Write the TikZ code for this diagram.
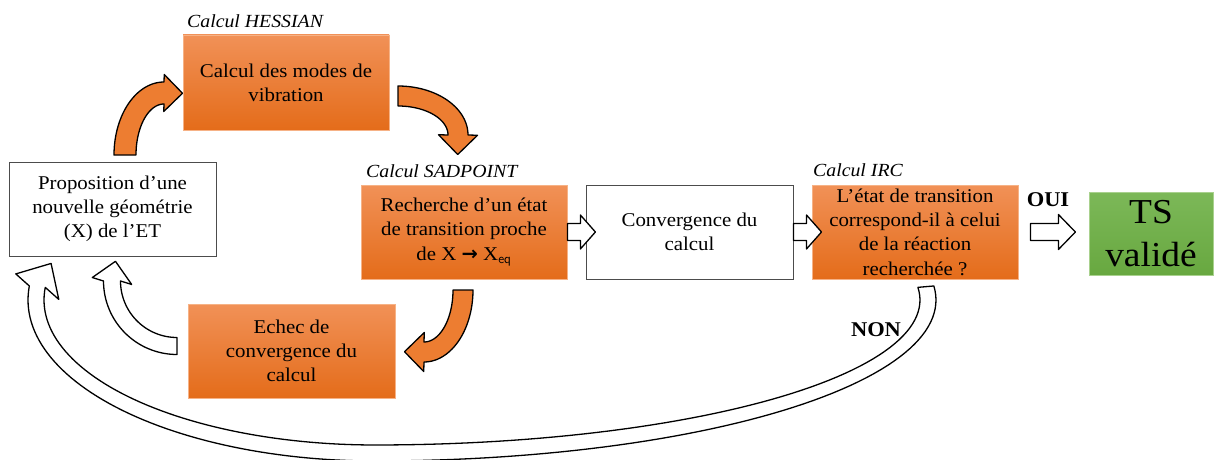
\documentclass[tikz,border=0pt]{standalone}
\usepackage{fontspec}
\setmainfont{Liberation Serif}[FakeStretch=1.07]
\newfontfamily\arrowfont{DejaVu Sans}
\usetikzlibrary{calc}
\newcommand{\boxfont}{\fontsize{19.5}{24.3}\selectfont}
\newcommand{\lblfont}{\itshape\fontsize{18.5}{20}\selectfont}
\def\ctilt{1}
\newcommand{\carrow}[9]{%
  \pgfmathsetmacro\cnext{#7 + ((#7>#6) ? \ctilt : -\ctilt)}%
  \coordinate (cb) at ({#2+#4*cos(#7)},{#3-#5*sin(#7)});
  \coordinate (cn) at ({#2+#4*cos(\cnext)},{#3-#5*sin(\cnext)});
  \draw[#1] plot[domain=#6:#7,samples=40,variable=\t] ({#2+(#4+#8)*cos(\t)},{#3-(#5+#8)*sin(\t)})
    -- ($(cb)!#9pt!90:(cn)$) -- ($(cb)!#9pt!(cn)$) -- ($(cb)!#9pt!-90:(cn)$)
    -- plot[domain=#7:#6,samples=40,variable=\t] ({#2+(#4-#8)*cos(\t)},{#3-(#5-#8)*sin(\t)}) -- cycle;
}
\definecolor{otop}{RGB}{241,145,87}
\definecolor{obot}{RGB}{228,108,26}
\definecolor{oedge}{RGB}{246,178,134}
\definecolor{ofill}{RGB}{237,125,49}
\definecolor{gtop}{RGB}{124,184,88}
\definecolor{gbot}{RGB}{104,168,64}
\definecolor{gedge}{RGB}{169,209,142}
\tikzset{
  obox/.style={draw=oedge, line width=0.8pt, top color=otop, bottom color=obot,
    minimum width=206pt, minimum height=94pt, inner sep=0pt, align=center, font=\boxfont},
  wbox/.style={draw=black!70, line width=1pt, fill=white,
    minimum width=206pt, minimum height=94pt, inner sep=0pt, align=center, font=\boxfont},
  gbox/.style={draw=gedge, line width=0.8pt, top color=gtop, bottom color=gbot,
    minimum width=124pt, minimum height=83pt, inner sep=0pt, align=center,
    font=\fontsize{35}{43}\selectfont},
  lbl/.style={anchor=base west, font=\lblfont, inner sep=0pt},
  blbl/.style={font=\bfseries\fontsize{21}{24}\selectfont, inner sep=0pt},
  oarrow/.style={draw=black, line width=1.3pt, fill=ofill, line join=round},
  warrow/.style={draw=black, line width=1.3pt, fill=white, line join=round},
}
\begin{document}
\begin{tikzpicture}[x=1pt,y=-1pt]
\useasboundingbox (0,0) rectangle (1221,460);

% big return arrow (IRC -> Proposition)
\coordinate (bb) at ({375+339*cos(-185)},{300-153*sin(-185)});
\coordinate (bn) at ({375+339*cos(-205)},{300-153*sin(-205)});
\draw[warrow] plot[domain=5:-90,samples=60,variable=\t] ({375+561*cos(\t)},{300-161*sin(\t)})
 -- plot[domain=-90:-185,samples=60,variable=\t] ({375+347*cos(\t)},{300-161*sin(\t)})
 -- ($(bb)!25pt!90:(bn)$) -- ($(bb)!27pt!(bn)$) -- ($(bb)!25pt!-90:(bn)$)
 -- plot[domain=-185:-90,samples=60,variable=\t] ({375+331*cos(\t)},{300-145*sin(\t)})
 -- plot[domain=-90:5,samples=60,variable=\t] ({375+545*cos(\t)},{300-145*sin(\t)}) -- cycle;

% boxes
\node[wbox, minimum width=207pt] (P) at (112.5,209) {Proposition d’une\\nouvelle géométrie\\(X) de l’ET};
\node[obox, minimum height=95pt] (H) at (286,82.5) {Calcul des modes de\\vibration};
\node[obox] (S) at (464,232) {Recherche d’un état\\de transition proche\\de X {\arrowfont\bfseries →} X\textsubscript{\sffamily eq}};
\node[wbox, minimum width=207pt] (C) at (689.5,232) {Convergence du\\calcul};
\node[obox] (I) at (915,232) {L’état de transition\\correspond-il à celui\\de la réaction\\recherchée ?};
\node[gbox] (T) at (1151,233.5) {TS\\validé};
\node[obox, minimum width=207pt] (E) at (291.5,351) {Echec de\\convergence du\\calcul};

% labels
\node[lbl] (lh) at (187,28) {Calcul HESSIAN};
\node[lbl] (ls) at (366,177) {Calcul SADPOINT};
\node[lbl] (li) at (813,176) {Calcul IRC};
\node[blbl] (oui) at (1048,200) {OUI};
\node[blbl] (non) at (876,330) {NON};

% straight hollow arrows
\draw[warrow, shift={(S.east)}] (0,-8.5) -- (13,-8.5) -- (13,-17) -- (28,0) -- (13,17) -- (13,8.5) -- (0,8.5) -- cycle;
\draw[warrow, shift={(C.east)}] (0,-8.5) -- (13,-8.5) -- (13,-17) -- (28,0) -- (13,17) -- (13,8.5) -- (0,8.5) -- cycle;
\draw[warrow, shift={(I.east)}] (12,-8.5) -- (40,-8.5) -- (40,-17.5) -- (57,0) -- (40,17.5) -- (40,8.5) -- (12,8.5) -- cycle;

% curved arrows
\carrow{oarrow}{164}{155}{39}{62}{180}{90}{11}{18.5}
\carrow{oarrow}{398}{135}{60}{39}{90}{0}{10}{19.5}
\carrow{oarrow}{424}{290}{39}{62}{0}{-90}{10}{19.5}
\def\ctilt{20}
\carrow{warrow}{177}{281}{65}{65}{-90}{-180}{8.5}{20}
\end{tikzpicture}
\end{document}
